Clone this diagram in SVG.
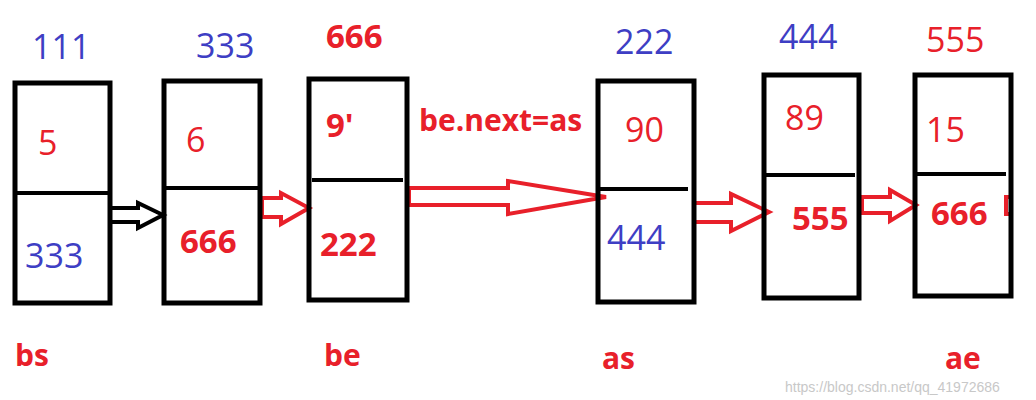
<svg xmlns="http://www.w3.org/2000/svg" width="1036" height="400" viewBox="0 0 1036 400">
<style>
.box{fill:none;stroke:#000;stroke-width:5}
.div{stroke:#000;stroke-width:4}
.b{font-family:"Open Sans","Noto Sans",sans-serif;font-size:34px;fill:#3e3ec4}
.r{font-family:"Open Sans","Noto Sans",sans-serif;font-size:34px;fill:#e8202a}
.rb{font-family:"Open Sans","Noto Sans",sans-serif;font-size:33px;font-weight:bold;fill:#e8202a}
.lb{font-family:"Open Sans","Noto Sans",sans-serif;font-size:30px;font-weight:bold;fill:#e8202a}
.arr{fill:#fff;stroke:#e8202a;stroke-width:4;stroke-linejoin:miter}
.wm{font-family:"Liberation Sans",sans-serif;font-size:14px;fill:#c8c8c8}
</style>
<rect width="1036" height="400" fill="#fff"/>
<g id="connectors">
<path d="M112,208 H138 V203 L163,215 L138,228 V222 H112" fill="#fff" stroke="#000" stroke-width="4"/>
<path class="arr" d="M262,198 H281 V193 L309,208 L281,224 V217 H262 Z"/>
<path class="arr" d="M409,188 H508 V181 L606,197 L508,214 V205 H409 Z"/>
<path class="arr" d="M694,203 H731 V194 L769,212 L731,231 V222 H694 Z"/>
<path class="arr" d="M862,197 H890 V190 L916,205 L890,221 V213 H862 Z"/>
<path d="M1011,197 H1006 V214 H1011" fill="none" stroke="#e8202a" stroke-width="4"/>
</g>
<g id="node-bs">
<rect class="box" x="15" y="83" width="95" height="220"/>
<line class="div" x1="15" y1="193" x2="110" y2="193"/>
<text class="b" x="32" y="59">111</text>
<text class="r" x="38" y="155">5</text>
<text class="b" x="25" y="268">333</text>
</g>
<g id="node-2">
<rect class="box" x="164" y="81" width="96" height="222"/>
<line class="div" x1="164" y1="188" x2="258" y2="188"/>
<text class="b" x="196" y="58">333</text>
<text class="r" x="186" y="152">6</text>
<text class="rb" x="180" y="253">666</text>
</g>
<g id="node-be">
<rect class="box" x="309" y="79" width="98" height="221"/>
<line class="div" x1="312" y1="180" x2="403" y2="180"/>
<text class="rb" x="326" y="48">666</text>
<text class="rb" x="326" y="137">9'</text>
<text class="rb" x="320" y="256">222</text>
</g>
<text class="lb" x="419" y="131" font-size="32" id="label-be-next">be.next=as</text>
<g id="node-as">
<rect class="box" x="598" y="81" width="96" height="221"/>
<line class="div" x1="598" y1="189" x2="688" y2="189"/>
<text class="b" x="615" y="54">222</text>
<text class="r" x="625" y="142">90</text>
<text class="b" x="607" y="250">444</text>
</g>
<g id="node-5">
<rect class="box" x="764" y="75" width="95" height="223"/>
<line class="div" x1="766" y1="175" x2="855" y2="175"/>
<text class="b" x="779" y="49">444</text>
<text class="r" x="785" y="130">89</text>
<text class="rb" x="792" y="230">555</text>
</g>
<g id="node-ae">
<rect class="box" x="915" y="75" width="96" height="221"/>
<line class="div" x1="915" y1="174" x2="1006" y2="174"/>
<text class="r" x="926" y="52">555</text>
<text class="r" x="926" y="142">15</text>
<text class="rb" x="931" y="225">666</text>
</g>
<g id="labels">
<text class="lb" x="15" y="366">bs</text>
<text class="lb" x="324" y="366">be</text>
<text class="lb" x="602" y="369">as</text>
<text class="lb" x="945" y="369">ae</text>
</g>
<text class="wm" x="785" y="392">https://blog.csdn.net/qq_41972686</text>
</svg>
